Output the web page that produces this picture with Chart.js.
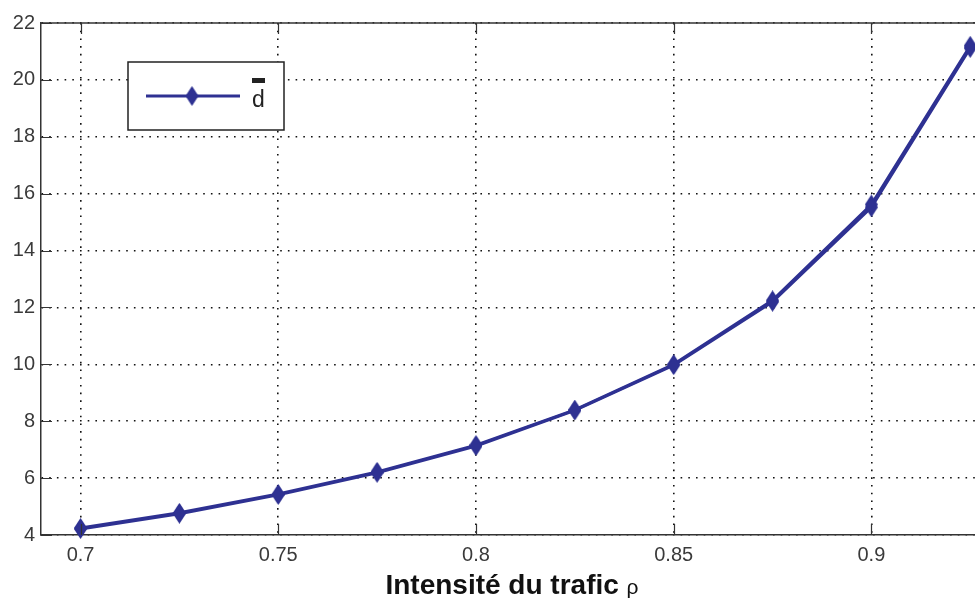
<!DOCTYPE html>
<html>
<head>
<meta charset="utf-8">
<script src="https://cdn.jsdelivr.net/npm/chart.js@4.4.0/dist/chart.umd.min.js"></script>
<style>
    html, body { margin: 0; padding: 0; background: #fff; overflow: hidden; }
    #wrap { width: 1000px; height: 601px; }
</style>
</head>
<body>
<div id="wrap"><canvas id="chart"></canvas></div>
<script>
// ---------------------------------------------------------
// Data
// ---------------------------------------------------------
const rho      = [0.7, 0.725, 0.75, 0.775, 0.8, 0.825, 0.85, 0.875, 0.9, 0.925];
const dMean    = [4.25, 4.78, 5.44, 6.22, 7.16, 8.40, 10.00, 12.25, 15.62, 21.20];
const dMeanAlt = [4.21, 4.75, 5.41, 6.19, 7.13, 8.38, 9.97, 12.20, 15.52, 21.12];
const xTicks   = [0.7, 0.75, 0.8, 0.85, 0.9];
const yTicks   = [4, 6, 8, 10, 12, 14, 16, 18, 20, 22];

const BLUE = '#2e3192';
const AXIS = '#333';
const FONT = '"Liberation Sans", Arial, sans-serif';

const pts = (ys) => rho.map((x, i) => ({ x, y: ys[i] }));

// tall Matlab-style diamond marker
function diamond(w, h) {
    const c = document.createElement('canvas');
    c.width = w; c.height = h;
    const g = c.getContext('2d');
    g.fillStyle = BLUE;
    g.beginPath();
    g.moveTo(w / 2, 0); g.lineTo(w, h / 2); g.lineTo(w / 2, h); g.lineTo(0, h / 2);
    g.closePath();
    g.fill();
    return c;
}
const marker = diamond(13, 20);

// ---------------------------------------------------------
// Matlab-like frame: top border, inward ticks, boxed legend, x title
// ---------------------------------------------------------
const matlabFrame = {
    id: 'matlabFrame',
    afterDraw(chart) {
        const { ctx, chartArea: a, scales: { x, y } } = chart;
        ctx.save();
        ctx.strokeStyle = AXIS;
        ctx.lineWidth = 1.5;

        // top border
        ctx.beginPath();
        ctx.moveTo(a.left, a.top);
        ctx.lineTo(a.right, a.top);
        ctx.stroke();

        // inward ticks
        ctx.lineWidth = 1.2;
        ctx.beginPath();
        xTicks.forEach(v => {
            const px = Math.round(x.getPixelForValue(v)) + 0.5;
            ctx.moveTo(px, a.bottom); ctx.lineTo(px, a.bottom - 11);
            ctx.moveTo(px, a.top);    ctx.lineTo(px, a.top + 11);
        });
        yTicks.forEach(v => {
            const py = Math.round(y.getPixelForValue(v)) + 0.5;
            ctx.moveTo(a.left, py); ctx.lineTo(a.left + 11, py);
        });
        ctx.stroke();

        // legend box
        ctx.fillStyle = '#fff';
        ctx.fillRect(128, 62, 156, 68);
        ctx.strokeStyle = '#222';
        ctx.lineWidth = 1.5;
        ctx.strokeRect(128, 62, 156, 68);

        ctx.strokeStyle = BLUE;
        ctx.lineWidth = 3;
        ctx.beginPath();
        ctx.moveTo(146, 96); ctx.lineTo(240, 96);
        ctx.stroke();
        ctx.drawImage(marker, 192 - 6.5, 96 - 10);

        ctx.fillStyle = '#222';
        ctx.font = '23px ' + FONT;
        ctx.textBaseline = 'alphabetic';
        ctx.textAlign = 'left';
        ctx.fillText('d', 252, 107);
        ctx.fillRect(252, 78, 13, 5);

        // x axis title
        ctx.fillStyle = '#111';
        ctx.font = 'bold 28px ' + FONT;
        const main = 'Intensité du trafic ';
        const w1 = ctx.measureText(main).width;
        ctx.font = '21px ' + FONT;
        const w2 = ctx.measureText('ρ').width;
        const x0 = (a.left + 975) / 2 - (w1 + w2) / 2 + 4;
        ctx.font = 'bold 28px ' + FONT;
        ctx.fillText(main, x0, 594);
        ctx.font = '21px ' + FONT;
        ctx.fillText('ρ', x0 + w1, 594);

        ctx.restore();
    }
};

// ---------------------------------------------------------
// Chart
// ---------------------------------------------------------
const lineSet = (data, width) => ({
    data,
    borderColor: BLUE,
    backgroundColor: BLUE,
    borderWidth: width,
    pointStyle: marker,
    pointRadius: 7,
    tension: 0,
    clip: false,
});

new Chart(document.getElementById('chart'), {
    type: 'line',
    data: {
        datasets: [
            lineSet(pts(dMeanAlt), 3),
            lineSet(pts(dMean), 3),
        ],
    },
    options: {
        responsive: true,
        maintainAspectRatio: false,
        animation: false,
        devicePixelRatio: 1,
        layout: { padding: { top: 23, right: 10, left: 0, bottom: 0 } },
        plugins: {
            legend: { display: false },
            tooltip: { enabled: false },
        },
        scales: {
            x: {
                type: 'linear',
                min: 0.69,
                max: 0.93,
                afterBuildTicks: s => { s.ticks = xTicks.map(value => ({ value })); },
                afterFit: s => { s.height = 66; },
                grid: { color: '#111', lineWidth: 1.6, drawTicks: false },
                border: { display: true, color: AXIS, width: 1.5, dash: [1.6, 6.1] },
                ticks: {
                    padding: 8,
                    color: '#3a3a3a',
                    font: { family: FONT, size: 20 },
                    maxRotation: 0,
                    callback: v => String(v),
                },
            },
            y: {
                min: 4,
                max: 22,
                afterBuildTicks: s => { s.ticks = yTicks.map(value => ({ value })); },
                afterFit: s => { s.width = 41; },
                grid: { color: '#111', lineWidth: 1.6, drawTicks: false },
                border: { display: true, color: AXIS, width: 1.5, dash: [1.6, 6.1] },
                ticks: {
                    padding: 6,
                    color: '#3a3a3a',
                    font: { family: FONT, size: 20 },
                    callback: v => String(v),
                },
            },
        },
    },
    plugins: [matlabFrame],
});
</script>
</body>
</html>
